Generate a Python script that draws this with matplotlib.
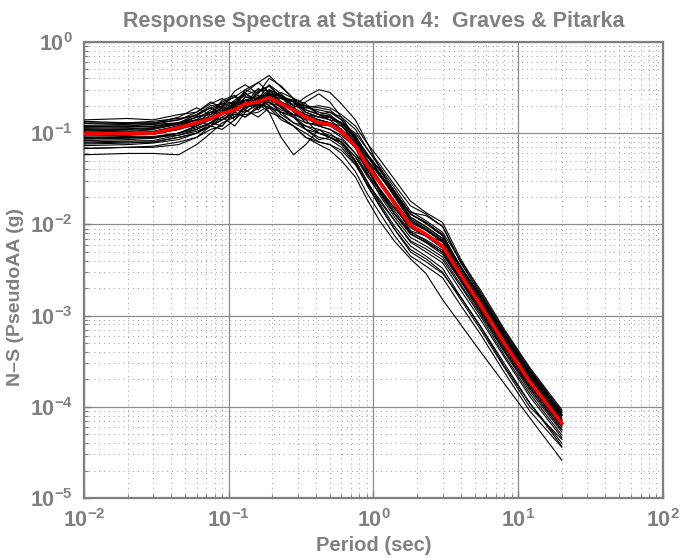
import numpy as np
import matplotlib
matplotlib.use('Agg')
from matplotlib import pyplot as plt
from matplotlib.ticker import LogLocator, NullFormatter

# Periods (sec) at which the spectra are read
periods = [0.01, 0.02, 0.03, 0.045, 0.06, 0.075, 0.09, 0.11, 0.13, 0.16, 0.19, 0.23, 0.28, 0.34,
           0.42, 0.5, 0.6, 0.75, 0.9, 1.1, 1.4, 1.8, 2.3, 3.0, 4.0, 5.5, 8.0, 12.0, 20.0]

# mean spectrum (red)
mean_psa = [0.098, 0.10, 0.10, 0.115, 0.13, 0.145, 0.165, 0.18, 0.21, 0.22, 0.245, 0.21, 0.18, 0.15,
            0.13, 0.125, 0.105, 0.072, 0.045, 0.029, 0.017, 0.0098, 0.0078, 0.0058, 0.0028, 0.0013,
            0.0005, 0.00019, 0.000066]

# individual realizations (black)
realizations = [
    [0.14, 0.145, 0.14, 0.16, 0.17, 0.22, 0.19, 0.29, 0.34, 0.27, 0.4, 0.33, 0.24, 0.21, 0.16, 0.17, 0.15, 0.11, 0.068, 0.043, 0.025, 0.014, 0.011, 0.0082, 0.004, 0.0019, 0.00071, 0.00027, 0.000093],
    [0.128, 0.13, 0.13, 0.14, 0.17, 0.21, 0.24, 0.2, 0.3, 0.36, 0.28, 0.2, 0.16, 0.11, 0.085, 0.09, 0.08, 0.05, 0.03, 0.018, 0.011, 0.0066, 0.0054, 0.0041, 0.0021, 0.00098, 0.00037, 0.00014, 0.000049],
    [0.118, 0.12, 0.125, 0.13, 0.15, 0.16, 0.22, 0.25, 0.2, 0.28, 0.33, 0.24, 0.2, 0.25, 0.3, 0.28, 0.21, 0.14, 0.08, 0.042, 0.022, 0.012, 0.0095, 0.007, 0.0034, 0.0016, 0.0006, 0.00023, 0.00008],
    [0.108, 0.11, 0.105, 0.12, 0.14, 0.12, 0.17, 0.2, 0.28, 0.2, 0.3, 0.26, 0.17, 0.14, 0.14, 0.13, 0.1, 0.07, 0.046, 0.03, 0.016, 0.0085, 0.0075, 0.0065, 0.0029, 0.00135, 0.00052, 0.0002, 0.000068],
    [0.1, 0.1, 0.098, 0.11, 0.13, 0.15, 0.16, 0.21, 0.23, 0.26, 0.17, 0.09, 0.058, 0.075, 0.11, 0.1, 0.08, 0.05, 0.03, 0.017, 0.0095, 0.0058, 0.0045, 0.0033, 0.0016, 0.00075, 0.00028, 0.00011, 0.000037],
    [0.088, 0.09, 0.092, 0.1, 0.12, 0.15, 0.14, 0.17, 0.22, 0.19, 0.24, 0.19, 0.21, 0.2, 0.16, 0.14, 0.13, 0.1, 0.068, 0.046, 0.027, 0.016, 0.013, 0.0095, 0.0038, 0.0017, 0.00065, 0.00025, 0.000086],
    [0.078, 0.08, 0.08, 0.09, 0.1, 0.13, 0.12, 0.17, 0.15, 0.2, 0.22, 0.17, 0.13, 0.12, 0.11, 0.09, 0.08, 0.055, 0.034, 0.022, 0.013, 0.0082, 0.0068, 0.0052, 0.0025, 0.00118, 0.00045, 0.00017, 0.00006],
    [0.068, 0.07, 0.072, 0.08, 0.09, 0.12, 0.11, 0.14, 0.18, 0.15, 0.19, 0.14, 0.12, 0.09, 0.08, 0.075, 0.06, 0.038, 0.022, 0.0135, 0.0075, 0.0045, 0.0035, 0.0026, 0.0013, 0.00062, 0.00024, 0.00009, 0.000036],
    [0.058, 0.06, 0.06, 0.058, 0.075, 0.1, 0.13, 0.15, 0.2, 0.24, 0.3, 0.22, 0.19, 0.15, 0.12, 0.13, 0.12, 0.09, 0.06, 0.036, 0.02, 0.011, 0.0087, 0.0065, 0.0031, 0.0014, 0.00055, 0.00021, 0.000073],
    [0.122, 0.125, 0.128, 0.15, 0.19, 0.16, 0.23, 0.26, 0.21, 0.31, 0.25, 0.28, 0.24, 0.2, 0.17, 0.16, 0.125, 0.075, 0.042, 0.023, 0.013, 0.0079, 0.0063, 0.0047, 0.0024, 0.0011, 0.00042, 0.00016, 0.000056],
    [0.103, 0.105, 0.1, 0.12, 0.13, 0.17, 0.2, 0.17, 0.25, 0.24, 0.34, 0.27, 0.2, 0.19, 0.2, 0.19, 0.16, 0.12, 0.078, 0.052, 0.031, 0.018, 0.0135, 0.0105, 0.0042, 0.0018, 0.00068, 0.00026, 0.000089],
    [0.093, 0.095, 0.097, 0.11, 0.125, 0.14, 0.18, 0.14, 0.2, 0.25, 0.2, 0.17, 0.16, 0.14, 0.1, 0.095, 0.085, 0.06, 0.042, 0.03, 0.018, 0.0098, 0.0079, 0.0058, 0.0027, 0.00124, 0.00047, 0.00018, 0.000063],
    [0.083, 0.085, 0.088, 0.1, 0.11, 0.13, 0.17, 0.19, 0.18, 0.25, 0.27, 0.25, 0.22, 0.17, 0.15, 0.14, 0.11, 0.07, 0.038, 0.021, 0.012, 0.0072, 0.0058, 0.0044, 0.0022, 0.00104, 0.0004, 0.00015, 0.000053],
    [0.113, 0.115, 0.112, 0.13, 0.14, 0.18, 0.21, 0.22, 0.27, 0.23, 0.26, 0.21, 0.18, 0.13, 0.125, 0.12, 0.1, 0.078, 0.055, 0.04, 0.023, 0.013, 0.0102, 0.0075, 0.0033, 0.0015, 0.00058, 0.00022, 0.000076],
    [0.073, 0.075, 0.078, 0.085, 0.1, 0.12, 0.15, 0.12, 0.17, 0.21, 0.17, 0.15, 0.12, 0.09, 0.075, 0.065, 0.05, 0.033, 0.019, 0.011, 0.0065, 0.0042, 0.0029, 0.0015, 0.0008, 0.0004, 0.00018, 0.000076, 0.000026],
    [0.135, 0.13, 0.135, 0.145, 0.155, 0.19, 0.21, 0.25, 0.3, 0.26, 0.22, 0.18, 0.16, 0.15, 0.12, 0.11, 0.09, 0.06, 0.036, 0.024, 0.015, 0.0092, 0.0075, 0.0055, 0.0029, 0.00136, 0.00052, 0.0002, 0.00007],
    [0.086, 0.088, 0.09, 0.095, 0.11, 0.13, 0.16, 0.21, 0.2, 0.29, 0.33, 0.25, 0.23, 0.19, 0.18, 0.17, 0.14, 0.095, 0.058, 0.035, 0.02, 0.011, 0.0088, 0.0066, 0.0034, 0.0016, 0.00062, 0.00024, 0.000083],
    [0.098, 0.1, 0.1, 0.115, 0.12, 0.16, 0.19, 0.15, 0.19, 0.22, 0.24, 0.16, 0.13, 0.11, 0.09, 0.085, 0.07, 0.046, 0.028, 0.016, 0.0088, 0.0053, 0.0042, 0.003, 0.0015, 0.0007, 0.00027, 0.0001, 0.000044],
    [0.116, 0.118, 0.12, 0.13, 0.15, 0.17, 0.18, 0.23, 0.28, 0.36, 0.43, 0.32, 0.24, 0.17, 0.15, 0.15, 0.13, 0.085, 0.058, 0.04, 0.023, 0.013, 0.0105, 0.0078, 0.0034, 0.0016, 0.0006, 0.00023, 0.00008],
    [0.09, 0.092, 0.09, 0.1, 0.12, 0.14, 0.17, 0.22, 0.21, 0.18, 0.24, 0.24, 0.22, 0.2, 0.19, 0.18, 0.14, 0.085, 0.045, 0.024, 0.013, 0.0078, 0.0064, 0.005, 0.0026, 0.00124, 0.00047, 0.00018, 0.000063],
    [0.106, 0.108, 0.11, 0.125, 0.15, 0.17, 0.16, 0.21, 0.23, 0.22, 0.25, 0.19, 0.15, 0.13, 0.12, 0.11, 0.095, 0.07, 0.05, 0.036, 0.021, 0.0115, 0.009, 0.0067, 0.003, 0.0014, 0.00053, 0.0002, 0.00007],
    [0.096, 0.098, 0.1, 0.11, 0.13, 0.14, 0.17, 0.2, 0.19, 0.21, 0.23, 0.22, 0.19, 0.16, 0.14, 0.13, 0.11, 0.08, 0.052, 0.034, 0.021, 0.0135, 0.0125, 0.0095, 0.0039, 0.0017, 0.00065, 0.00025, 0.000086],
    [0.08, 0.082, 0.083, 0.095, 0.105, 0.12, 0.14, 0.16, 0.16, 0.17, 0.2, 0.15, 0.12, 0.1, 0.08, 0.075, 0.065, 0.045, 0.028, 0.019, 0.011, 0.0064, 0.005, 0.0038, 0.0019, 0.0009, 0.00035, 0.00013, 0.000046],
    [0.12, 0.12, 0.118, 0.13, 0.16, 0.19, 0.16, 0.22, 0.26, 0.3, 0.29, 0.25, 0.2, 0.18, 0.16, 0.15, 0.12, 0.082, 0.05, 0.031, 0.018, 0.0105, 0.0086, 0.0064, 0.0031, 0.00143, 0.00055, 0.00021, 0.000073],
    [0.068, 0.07, 0.07, 0.075, 0.09, 0.11, 0.12, 0.17, 0.15, 0.19, 0.21, 0.2, 0.15, 0.12, 0.1, 0.09, 0.075, 0.048, 0.027, 0.016, 0.0088, 0.005, 0.0039, 0.0029, 0.0016, 0.00076, 0.0003, 0.00011, 0.00004],
    [0.1, 0.102, 0.104, 0.12, 0.14, 0.15, 0.19, 0.18, 0.23, 0.21, 0.26, 0.24, 0.23, 0.18, 0.16, 0.155, 0.13, 0.09, 0.057, 0.037, 0.022, 0.012, 0.0094, 0.007, 0.0034, 0.0016, 0.0006, 0.00023, 0.00008],
    [0.11, 0.112, 0.115, 0.125, 0.14, 0.15, 0.2, 0.22, 0.19, 0.23, 0.28, 0.22, 0.19, 0.22, 0.27, 0.22, 0.15, 0.09, 0.05, 0.03, 0.017, 0.0098, 0.0078, 0.0058, 0.0028, 0.0013, 0.0005, 0.00019, 0.000066],
    [0.088, 0.09, 0.088, 0.1, 0.115, 0.13, 0.15, 0.18, 0.17, 0.21, 0.19, 0.17, 0.15, 0.11, 0.1, 0.09, 0.08, 0.055, 0.036, 0.024, 0.014, 0.0083, 0.0066, 0.0049, 0.0024, 0.0011, 0.00042, 0.00016, 0.000056],
    [0.13, 0.128, 0.125, 0.14, 0.16, 0.2, 0.21, 0.19, 0.25, 0.24, 0.27, 0.19, 0.16, 0.16, 0.14, 0.13, 0.11, 0.07, 0.04, 0.025, 0.015, 0.0093, 0.0074, 0.0055, 0.0025, 0.00117, 0.00045, 0.00017, 0.00006],
    [0.076, 0.078, 0.08, 0.09, 0.1, 0.12, 0.14, 0.18, 0.23, 0.2, 0.27, 0.26, 0.22, 0.16, 0.15, 0.15, 0.13, 0.09, 0.06, 0.04, 0.023, 0.013, 0.0105, 0.0075, 0.0035, 0.0016, 0.00062, 0.00024, 0.000082],
]

title_text = 'Response Spectra at Station 4:  Graves & Pitarka'
xlabel_text = 'Period (sec)'
ylabel_text = 'N\u2013S (PseudoAA (g)'

grey = '#808080'
plt.rcParams['font.family'] = ['Liberation Sans', 'DejaVu Sans']
plt.rcParams['font.weight'] = 'bold'
plt.rcParams['mathtext.fontset'] = 'custom'
plt.rcParams['mathtext.rm'] = 'Liberation Sans:bold'
plt.rcParams['mathtext.bf'] = 'Liberation Sans:bold'
plt.rcParams['mathtext.default'] = 'bf'

fig = plt.figure(figsize=(6.81, 5.58), dpi=100)
ax = fig.add_axes([84/681, 1 - 498/558, 579/681, 456/558])

for r in realizations:
    ax.plot(periods, r, color='black', lw=0.8, zorder=3)
ax.plot(periods, mean_psa, color='#ff0000', lw=2.6, zorder=4)

ax.set_xscale('log')
ax.set_yscale('log')
ax.set_xlim(1e-2, 1e2)
ax.set_ylim(1e-5, 1e0)

ax.xaxis.set_major_locator(LogLocator(base=10, numticks=10))
ax.yaxis.set_major_locator(LogLocator(base=10, numticks=10))
ax.xaxis.set_minor_locator(LogLocator(base=10, subs=np.arange(2, 10), numticks=20))
ax.yaxis.set_minor_locator(LogLocator(base=10, subs=np.arange(2, 10), numticks=20))
ax.xaxis.set_minor_formatter(NullFormatter())
ax.yaxis.set_minor_formatter(NullFormatter())

ax.grid(True, which='major', color='#8c8c8c', lw=0.9, ls='-', zorder=1)
ax.grid(True, which='minor', color='#9a9a9a', lw=0.7, ls=(0, (1, 4)), zorder=1)

ax.tick_params(which='both', direction='in', colors=grey, labelsize=15.5)
ax.tick_params(which='major', length=5, width=1)
ax.tick_params(which='minor', length=3, width=0.8)
ax.tick_params(axis='x', pad=8)
ax.tick_params(axis='y', pad=8)
for s in ax.spines.values():
    s.set_color(grey)
    s.set_linewidth(1.6)

ax.set_title(title_text, color=grey, fontsize=15.5, fontweight='bold', pad=11)
ax.set_xlabel(xlabel_text, color=grey, fontsize=14.5, fontweight='bold', labelpad=3)
ax.set_ylabel(ylabel_text, color=grey, fontsize=14, fontweight='bold')
ax.yaxis.set_label_coords(-0.103, 0.44)

fig.savefig('out.png', dpi=100)
